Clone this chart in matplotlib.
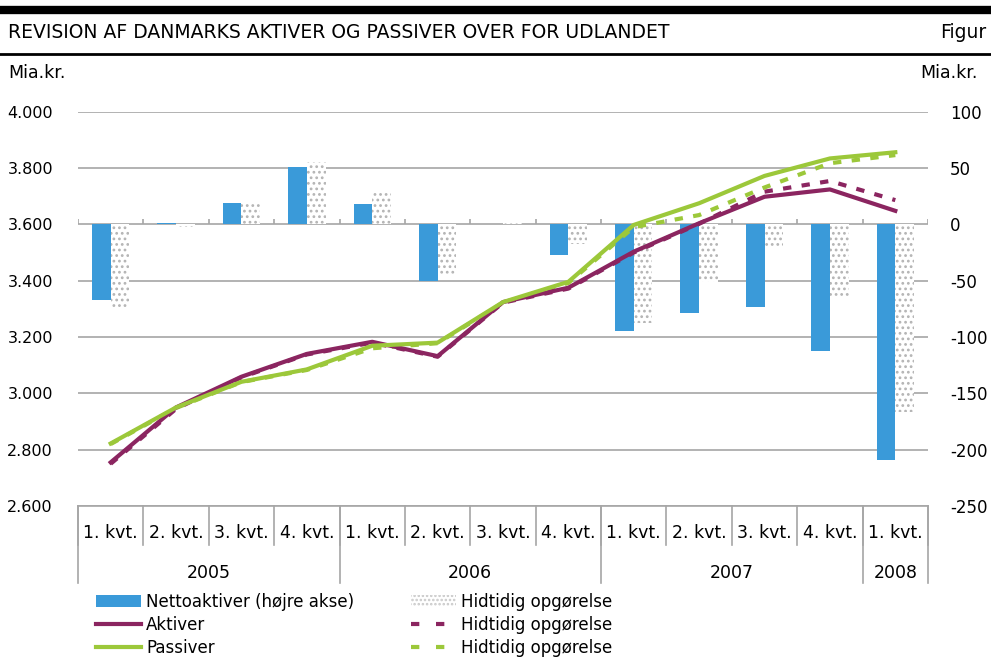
import matplotlib
matplotlib.use("Agg")
import matplotlib.pyplot as plt
import numpy as np
from matplotlib.patches import Patch
from matplotlib.lines import Line2D

quarters = ["1. kvt.", "2. kvt.", "3. kvt.", "4. kvt."] * 3 + ["1. kvt."]
years = ["2005", "2006", "2007", "2008"]
year_len = [4, 4, 4, 1]

# Nettoaktiver (right axis, mia. kr.)
netto = [-67, 1, 19, 51, 18, -50, 0, -27, -95, -79, -73, -112, -209]
netto_old = [-74, -2, 18, 55, 28, -46, 1, -17, -88, -51, -19, -65, -167]

# Aktiver / Passiver (left axis, mia. kr.)
aktiver = [2755, 2950, 3059, 3140, 3183, 3132, 3324, 3375, 3503, 3604, 3698, 3724, 3648]
aktiver_old = [2750, 2945, 3057, 3138, 3180, 3130, 3322, 3372, 3500, 3602, 3716, 3754, 3686]
passiver = [2822, 2950, 3041, 3085, 3169, 3180, 3324, 3396, 3598, 3675, 3772, 3834, 3856]
passiver_old = [2820, 2948, 3040, 3083, 3160, 3178, 3322, 3392, 3590, 3633, 3731, 3817, 3846]

blue = "#3a9ad9"
purple = "#8b2560"
green = "#9cc83a"
grid_c = "#a6a6a6"
plt.rcParams["font.family"] = ["DejaVu Sans"]
plt.rcParams["hatch.color"] = "#b4b4b4"
plt.rcParams["hatch.linewidth"] = 1.2

W, H = 991, 660
fig = plt.figure(figsize=(W / 100, H / 100), dpi=100)
L, R, T, B = 78, 928, 111.7, 506
ax = fig.add_axes([L / W, 1 - B / H, (R - L) / W, (B - T) / H])
ax2 = ax.twinx()
ax.set_zorder(1)
ax2.set_zorder(2)
ax2.patch.set_visible(False)

x = np.arange(len(quarters))
bw = 0.286

# bars on ax (right scale)
ax.set_ylim(-250, 100)
ax.set_xlim(-0.5, len(x) - 0.5)
for v in np.arange(-250, 101, 50):
    ax.axhline(v, color=grid_c, lw=1.2, zorder=0)
ax.bar(x - bw / 2, netto, bw, color=blue, zorder=2)
ax.bar(x + bw / 2, netto_old, bw, color="white", hatch="...", edgecolor="#b4b4b4", lw=0, zorder=2)
ax.vlines(np.arange(len(x) + 1) - 0.5, 0, 5, color=grid_c, lw=1.2, zorder=1)
ax.yaxis.tick_right()
ax.set_yticks(np.arange(-250, 101, 50))
ax.set_yticklabels([str(v) for v in np.arange(-250, 101, 50)])
ax.tick_params(axis="y", length=0, pad=16, labelsize=12)
ax.set_xticks([])
for s in ax.spines.values():
    s.set_visible(False)

# lines on ax2 (left scale)
ax2.set_ylim(2600, 4000)
ax2.plot(x, aktiver_old, color=purple, lw=3, ls=(0, (2, 2.5)), zorder=3)
ax2.plot(x, passiver_old, color=green, lw=3, ls=(0, (2, 2.5)), zorder=3)
ax2.plot(x, aktiver, color=purple, lw=3, zorder=4)
ax2.plot(x, passiver, color=green, lw=3, zorder=4)
ax2.yaxis.tick_left()
lt = np.arange(2600, 4001, 200)
ax2.set_yticks(lt)
ax2.set_yticklabels(["{:,}".format(v).replace(",", ".") for v in lt])
ax2.tick_params(axis="y", length=0, pad=18, labelsize=11.5)
for s in ax2.spines.values():
    s.set_visible(False)

# category axis below
tr = ax.get_xaxis_transform()
yq = -(545 - B) / (B - T)
yy = -(583 - B) / (B - T)
for i in range(len(x) + 1):
    ax.plot([i - 0.5, i - 0.5], [0, yq], transform=tr, color=grid_c, lw=1.2, clip_on=False)
ax.plot([-0.5, len(x) - 0.5], [0, 0], transform=tr, color=grid_c, lw=1.2, clip_on=False)
start = 0
bounds = [0]
for n in year_len:
    start += n
    bounds.append(start)
for b in bounds:
    ax.plot([b - 0.5, b - 0.5], [0, yy], transform=tr, color=grid_c, lw=1.2, clip_on=False)
for i, q in enumerate(quarters):
    ax.text(i, -(533 - B) / (B - T), q, transform=tr, ha="center", va="center", fontsize=12.5)
for j, yr in enumerate(years):
    c = (bounds[j] + bounds[j + 1] - 1) / 2
    ax.text(c, -(573 - B) / (B - T), yr, transform=tr, ha="center", va="center", fontsize=12.5)

# header
fig.add_artist(Line2D([0, 1], [1 - 9.5 / H] * 2, color="black", lw=6))
fig.add_artist(Line2D([0, 1], [1 - 54 / H] * 2, color="black", lw=2))
fig.text(8 / W, 1 - 33 / H, "REVISION AF DANMARKS AKTIVER OG PASSIVER OVER FOR UDLANDET",
         fontsize=13.5, va="center")
fig.text(940 / W, 1 - 33 / H, "Figur", fontsize=13.5, va="center")
fig.text(8 / W, 1 - 73 / H, "Mia.kr.", fontsize=12.5, va="center")
fig.text(978 / W, 1 - 73 / H, "Mia.kr.", fontsize=12.5, va="center", ha="right")

# legend
handles = [
    Patch(facecolor=blue, edgecolor="none"),
    Line2D([], [], color=purple, lw=3),
    Line2D([], [], color=green, lw=3),
    Patch(facecolor="white", hatch="....", edgecolor="#c8c8c8", lw=0),
    Line2D([], [], color=purple, lw=3, ls=(0, (2, 4))),
    Line2D([], [], color=green, lw=3, ls=(0, (2, 4))),
]
labels = ["Nettoaktiver (højre akse)", "Aktiver", "Passiver",
          "Hidtidig opgørelse", "Hidtidig opgørelse", "Hidtidig opgørelse"]
fig.legend(handles, labels, ncol=2, loc="upper left",
           bbox_to_anchor=(86 / W, 1 - 583 / H), frameon=False,
           fontsize=12, handlelength=2.7, handleheight=0.75, handletextpad=0.3,
           labelspacing=0.3, columnspacing=3.4, borderpad=0.1)

fig.savefig("out.png", dpi=100)
